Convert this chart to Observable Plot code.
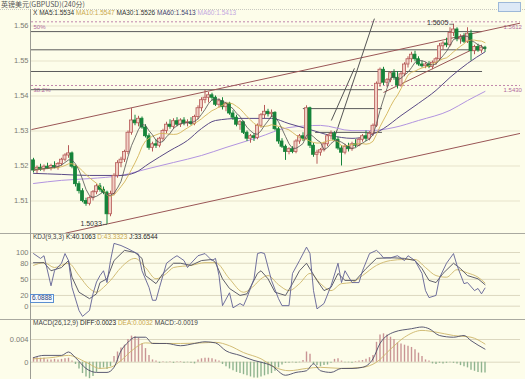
<!DOCTYPE html>
<html><head><meta charset="utf-8">
<script src="https://cdn.jsdelivr.net/npm/d3@7"></script>
<script src="https://cdn.jsdelivr.net/npm/@observablehq/plot@0.6"></script>
<style>
body{margin:0;background:#fdfdea;}
#wrap{position:relative;width:525px;height:379px;background:#fdfdea;overflow:hidden;font-family:"Liberation Sans",sans-serif;}
#wrap svg{position:absolute;left:0;}
.t{position:absolute;white-space:nowrap;line-height:1;}
.hl{position:absolute;height:0;}
</style></head><body><div id="wrap"></div>
<script>
// ---------- data ----------
const title = "英镑美元(GBPUSD)(240分)";
// candles: [open, high, low, close]
const ohlc = [
[1.5216,1.5222,1.5180,1.5187],[1.5187,1.5200,1.5178,1.5195],[1.5195,1.5205,1.5185,1.5190],[1.5190,1.5203,1.5183,1.5198],
[1.5198,1.5208,1.5190,1.5193],[1.5193,1.5205,1.5186,1.5200],[1.5200,1.5212,1.5192,1.5196],[1.5196,1.5210,1.5188,1.5206],
[1.5206,1.5222,1.5200,1.5218],[1.5218,1.5235,1.5212,1.5230],[1.5230,1.5258,1.5222,1.5236],[1.5236,1.5240,1.5192,1.5198],
[1.5198,1.5202,1.5140,1.5148],[1.5148,1.5155,1.5120,1.5128],[1.5128,1.5135,1.5095,1.5100],[1.5100,1.5108,1.5085,1.5092],
[1.5092,1.5112,1.5086,1.5108],[1.5108,1.5130,1.5100,1.5125],[1.5125,1.5148,1.5118,1.5142],[1.5142,1.5150,1.5125,1.5132],
[1.5132,1.5140,1.5118,1.5124],[1.5124,1.5128,1.5033,1.5062],[1.5062,1.5128,1.5055,1.5120],[1.5120,1.5178,1.5115,1.5172],
[1.5172,1.5215,1.5165,1.5208],[1.5208,1.5225,1.5195,1.5218],[1.5218,1.5245,1.5210,1.5240],[1.5240,1.5300,1.5232,1.5295],
[1.5295,1.5364,1.5288,1.5330],[1.5330,1.5345,1.5315,1.5322],[1.5322,1.5342,1.5312,1.5335],[1.5335,1.5340,1.5305,1.5310],
[1.5310,1.5318,1.5280,1.5285],[1.5285,1.5292,1.5245,1.5252],[1.5252,1.5268,1.5240,1.5262],[1.5262,1.5275,1.5250,1.5258],
[1.5258,1.5282,1.5252,1.5278],[1.5278,1.5305,1.5270,1.5300],[1.5300,1.5325,1.5292,1.5318],[1.5318,1.5332,1.5305,1.5312],
[1.5312,1.5335,1.5305,1.5328],[1.5328,1.5338,1.5312,1.5318],[1.5318,1.5335,1.5310,1.5330],[1.5330,1.5338,1.5315,1.5322],
[1.5322,1.5332,1.5312,1.5325],[1.5325,1.5338,1.5315,1.5320],[1.5320,1.5345,1.5315,1.5340],[1.5340,1.5372,1.5332,1.5365],
[1.5365,1.5395,1.5355,1.5388],[1.5388,1.5416,1.5378,1.5395],[1.5395,1.5410,1.5380,1.5402],[1.5402,1.5408,1.5385,1.5395],
[1.5395,1.5400,1.5370,1.5375],[1.5375,1.5392,1.5365,1.5385],[1.5385,1.5395,1.5360,1.5368],[1.5368,1.5382,1.5355,1.5378],
[1.5378,1.5382,1.5345,1.5350],[1.5350,1.5358,1.5330,1.5338],[1.5338,1.5345,1.5312,1.5318],[1.5318,1.5330,1.5302,1.5325],
[1.5325,1.5328,1.5290,1.5295],[1.5295,1.5300,1.5270,1.5278],[1.5278,1.5290,1.5265,1.5285],[1.5285,1.5292,1.5270,1.5280],
[1.5280,1.5320,1.5275,1.5315],[1.5315,1.5350,1.5308,1.5345],[1.5345,1.5373,1.5335,1.5355],[1.5355,1.5362,1.5340,1.5348],
[1.5348,1.5360,1.5338,1.5352],[1.5352,1.5355,1.5300,1.5305],[1.5305,1.5310,1.5262,1.5270],[1.5270,1.5278,1.5250,1.5255],
[1.5255,1.5260,1.5216,1.5240],[1.5240,1.5252,1.5232,1.5248],[1.5248,1.5255,1.5235,1.5240],[1.5240,1.5275,1.5235,1.5270],
[1.5270,1.5290,1.5262,1.5285],[1.5285,1.5295,1.5270,1.5278],[1.5278,1.5372,1.5275,1.5365],[1.5365,1.5368,1.5250,1.5258],
[1.5258,1.5265,1.5225,1.5232],[1.5232,1.5245,1.5205,1.5238],[1.5238,1.5250,1.5228,1.5245],[1.5245,1.5268,1.5240,1.5262],
[1.5262,1.5290,1.5255,1.5285],[1.5285,1.5300,1.5275,1.5292],[1.5292,1.5298,1.5270,1.5275],[1.5275,1.5282,1.5245,1.5250],
[1.5250,1.5258,1.5200,1.5238],[1.5238,1.5262,1.5232,1.5255],[1.5255,1.5265,1.5240,1.5248],[1.5248,1.5268,1.5242,1.5262],
[1.5262,1.5275,1.5252,1.5258],[1.5258,1.5280,1.5255,1.5275],[1.5275,1.5290,1.5268,1.5285],[1.5285,1.5300,1.5270,1.5278],
[1.5278,1.5298,1.5272,1.5292],[1.5292,1.5320,1.5285,1.5315],[1.5315,1.5440,1.5310,1.5435],[1.5435,1.5480,1.5425,1.5475],
[1.5475,1.5482,1.5430,1.5438],[1.5438,1.5450,1.5425,1.5445],[1.5445,1.5470,1.5438,1.5465],[1.5465,1.5475,1.5445,1.5452],
[1.5452,1.5470,1.5420,1.5430],[1.5430,1.5468,1.5425,1.5462],[1.5462,1.5495,1.5455,1.5490],[1.5490,1.5512,1.5480,1.5505],
[1.5505,1.5525,1.5495,1.5518],[1.5518,1.5528,1.5498,1.5505],[1.5505,1.5512,1.5485,1.5490],[1.5490,1.5500,1.5480,1.5485],
[1.5485,1.5495,1.5478,1.5490],[1.5490,1.5498,1.5478,1.5483],[1.5483,1.5500,1.5475,1.5495],[1.5495,1.5510,1.5488,1.5505],
[1.5505,1.5550,1.5500,1.5542],[1.5542,1.5555,1.5530,1.5550],[1.5550,1.5565,1.5538,1.5545],[1.5545,1.5595,1.5540,1.5580],
[1.5580,1.5605,1.5570,1.5590],[1.5590,1.5595,1.5555,1.5562],[1.5562,1.5575,1.5548,1.5568],[1.5568,1.5578,1.5550,1.5555],
[1.5555,1.5595,1.5550,1.5578],[1.5578,1.5588,1.5500,1.5528],[1.5528,1.5545,1.5518,1.5540],[1.5540,1.5548,1.5525,1.5530],
[1.5530,1.5545,1.5522,1.5538],[1.5538,1.5542,1.5525,1.5534]
];
// slow moving averages read at sample bars: [bar, value]
const ma30 = [[0,1.5179],[8,1.5176],[16,1.5173],[25,1.5173],[29,1.5181],[33,1.5207],[39,1.5244],[44,1.5273],[48,1.5307],[52,1.5330],[59,1.5336],[68,1.5336],[73,1.5321],[79,1.5304],[85,1.5287],[91,1.5279],[95,1.5284],[100,1.5307],[105,1.5344],[110,1.5379],[115,1.5416],[119,1.5453],[124,1.5493],[129,1.5526]];
const ma60 = [[0,1.5150],[8,1.5159],[16,1.5164],[25,1.5173],[33,1.5193],[40,1.5210],[48,1.5230],[55,1.5253],[64,1.5281],[73,1.5310],[82,1.5316],[91,1.5301],[96,1.5301],[103,1.5310],[110,1.5330],[119,1.5359],[124,1.5387],[129,1.5413]];
const priceTicks = [1.51,1.52,1.53,1.54,1.55,1.56];
const maNames = ["MA5","MA10","MA30","MA60","MA60"];
const maValues = ["1.5534","1.5547","1.5526","1.5413","1.5413"];
// analyst drawings: [bar1, price1, bar2, price2]
const channelLines = [[-0.6,1.5304,139,1.5608],[9.1,1.5008,139,1.5293],[100,1.5410,127.7,1.5544]];
const steepLines = [[86,1.5281,97.4,1.5621],[85.1,1.5330,91.7,1.5479]];
// horizontal levels: [price, fromBar, toBar]
const levels = [[1.5584,-0.6,128.3],[1.5532,-0.6,128.3],[1.5470,-0.6,128.3],[1.5418,-0.6,99.7],[1.5364,77.1,99.7],[1.5296,80.6,99.7]];
const fibPrices = [1.5612,1.5430];
const fibNames = ["50%","38.2%"];
const fibValues = ["1.5612","1.5430"];
const extremeBars = [120,21];
const extremePrices = [1.5605,1.5033];
// KDJ read at sample bars
const kdjK = [[0,81],[3,81],[5,66],[8,72],[10,85],[11,54],[13,26],[16,14],[18,23],[19,44],[21,51],[23,85],[26,104],[29,100],[31,89],[32,57],[35,42],[37,61],[40,80],[42,80],[45,76],[48,85],[51,87],[52,81],[54,51],[56,33],[59,20],[61,23],[64,61],[65,66],[67,51],[69,26],[72,20],[74,42],[76,66],[78,80],[81,48],[83,29],[85,35],[87,61],[89,48],[92,48],[95,70],[98,89],[101,90],[103,90],[106,89],[109,85],[111,70],[113,48],[115,44],[117,61],[120,80],[122,70],[124,57],[127,51],[129,40.1]];
const kdjD = [[0,76],[3,81],[6,72],[10,80],[13,57],[16,33],[18,26],[20,35],[22,48],[25,72],[29,89],[32,72],[35,51],[38,61],[40,72],[45,76],[49,81],[52,81],[56,51],[60,26],[63,38],[65,51],[67,57],[70,40],[73,29],[76,42],[79,61],[82,42],[85,29],[88,42],[91,44],[94,57],[98,76],[102,85],[106,87],[109,87],[112,72],[115,57],[118,54],[121,68],[124,62],[127,54],[129,43.3]];
const kdjJ = [[0,98],[2,89],[3,94],[5,38],[6,66],[8,80],[9,98],[10,85],[11,35],[13,-8],[14,-19],[16,-8],[17,23],[18,45],[19,57],[20,66],[21,44],[22,85],[23,117],[25,113],[27,107],[29,100],[30,97],[31,66],[33,35],[34,11],[35,11],[36,35],[38,80],[40,90],[41,94],[43,85],[44,72],[45,80],[47,94],[49,98],[51,85],[52,89],[53,57],[54,1],[56,25],[57,-3],[59,5],[60,1],[61,16],[63,51],[64,98],[65,100],[66,98],[68,48],[70,14],[71,1],[73,1],[74,61],[76,85],[78,110],[79,98],[80,29],[81,-5],[83,5],[85,38],[87,80],[88,44],[89,66],[91,44],[93,44],[94,66],[96,98],[98,104],[99,98],[100,90],[102,90],[104,94],[106,85],[107,94],[109,85],[111,61],[112,29],[113,16],[115,20],[116,53],[118,80],[120,98],[121,76],[123,42],[124,44],[126,29],[127,33],[128,23],[129,33.7]];
const kdjTicks = [0,20,50,80,100];
// MACD
const macdDiff = [[0,0.0008],[3,0.0012],[8,0.0012],[10,0.0018],[12,0.0008],[15,-0.0011],[18,-0.0018],[21,-0.0018],[23,-0.0009],[25,0.0020],[27,0.0035],[29,0.0044],[32,0.0044],[34,0.0033],[38,0.0033],[42,0.0029],[46,0.0033],[49,0.0036],[52,0.0034],[55,0.0020],[59,0.0012],[63,0.0003],[65,0.0000],[68,-0.0006],[72,-0.0023],[75,-0.0018],[78,-0.0015],[80,-0.0003],[82,-0.0015],[85,-0.0018],[88,-0.0011],[91,-0.0011],[94,-0.0009],[97,0.0006],[99,0.0033],[103,0.0053],[108,0.0059],[111,0.0062],[113,0.0059],[116,0.0047],[120,0.0044],[123,0.0047],[125,0.0038],[129,0.0023]];
const macdDea = [[0,0.0006],[5,0.0008],[10,0.0012],[15,0.0000],[19,-0.0011],[22,-0.0009],[25,0.0003],[28,0.0020],[32,0.0034],[36,0.0033],[42,0.0033],[48,0.0034],[52,0.0035],[56,0.0029],[60,0.0017],[65,0.0006],[69,-0.0009],[73,-0.0015],[78,-0.0011],[82,-0.0009],[88,-0.0011],[94,-0.0009],[98,0.0000],[102,0.0023],[106,0.0044],[111,0.0056],[115,0.0053],[120,0.0047],[125,0.0044],[129,0.0032]];
const macdHist = [0.0008,0.0008,0.0007,0.0007,0.0004,0.0004,0.0005,0.0004,0.0005,0.0006,0.0007,0.0002,-0.0004,-0.0012,-0.0020,-0.0026,-0.0029,-0.0025,-0.0018,-0.0012,
-0.0010,-0.0013,-0.0008,0.0010,0.0018,0.0025,0.0030,0.0040,0.0046,0.0045,0.0042,0.0032,0.0024,0.0012,0.0004,0.0002,-0.0002,0.0001,-0.0001,0.0001,
-0.0002,0.0001,0.0001,-0.0002,-0.0001,-0.0002,-0.0003,0.0004,0.0006,0.0007,0.0007,0.0006,0.0004,0.0002,-0.0004,-0.0008,-0.0012,-0.0015,-0.0018,-0.0020,
-0.0022,-0.0024,-0.0026,-0.0028,-0.0028,-0.0026,-0.0024,-0.0022,-0.0020,-0.0016,-0.0010,-0.0005,-0.0002,-0.0002,-0.0001,-0.0002,-0.0001,0.0003,0.0018,0.0014,
-0.0004,-0.0006,-0.0008,-0.0006,-0.0005,-0.0002,0.0005,0.0006,0.0002,-0.0001,-0.0001,-0.0002,0.0001,0.0002,0.0003,0.0005,0.0008,0.0012,0.0035,0.0048,
0.0050,0.0048,0.0044,0.0040,0.0034,0.0032,0.0030,0.0028,0.0026,0.0022,0.0016,0.0010,0.0004,0.0002,-0.0003,-0.0004,-0.0002,-0.0003,-0.0002,-0.0001,
-0.0002,-0.0003,-0.0006,-0.0008,-0.0010,-0.0014,-0.0016,-0.0018,-0.0019,-0.0019];
const macdTicks = [0,0.004];

// ---------- drawing ----------
const wrap = document.getElementById("wrap");
const xDomain = [-2/3.5, 487/3.5];
const common = {width:525, marginLeft:31, marginRight:5, marginBottom:0,
  style:{background:"transparent", fontFamily:"Liberation Sans, sans-serif", fontSize:"7.5px", color:"#7c7c74"}};
const bars = ohlc.map(([o,h,l,c],i)=>({i,o,h,l,c,up:c>=o}));
const UPS="#b65a58", UPF="#f1cfc4", DN="#16843a";
const pt = a => ({x:a[0], y:a[1]});

const main = Plot.plot({...common, height:233, marginTop:12,
  x:{domain:xDomain, axis:null},
  y:{domain:[1.500714,1.563857], ticks:priceTicks, tickFormat:d3.format(".2f"), tickSize:0, tickPadding:3, label:null},
  marks:[
    Plot.ruleY(priceTicks,{stroke:"#e7e3cb"}),
    Plot.ruleY(fibPrices,{stroke:"#b1689c", strokeDasharray:"2,2", strokeWidth:0.8}),
    Plot.text(fibPrices,{x:xDomain[0], y:d=>d, text:(d,i)=>fibNames[i], textAnchor:"start", dx:2, dy:5, fill:"#b1689c", fontSize:6}),
    Plot.text(fibPrices,{x:134.3, y:d=>d, text:(d,i)=>fibValues[i], textAnchor:"start", dy:5, fill:"#b1689c", fontSize:6}),
    Plot.ruleY(levels,{y:d=>d[0], x1:d=>d[1], x2:d=>d[2], stroke:"#5c5c5c", strokeWidth:1}),
    Plot.link(channelLines,{x1:d=>d[0], y1:d=>d[1], x2:d=>d[2], y2:d=>d[3], stroke:"#9a5656", strokeWidth:1}),
    Plot.link(steepLines,{x1:d=>d[0], y1:d=>d[1], x2:d=>d[2], y2:d=>d[3], stroke:"#555", strokeWidth:1}),
    Plot.line(ma60.map(pt),{x:"x", y:"y", curve:"monotone-x", stroke:"#b294e0", strokeWidth:1}),
    Plot.line(ma30.map(pt),{x:"x", y:"y", curve:"monotone-x", stroke:"#5a4a86", strokeWidth:1}),
    Plot.ruleX(bars,{x:"i", y1:"l", y2:"h", stroke:d=>d.up?UPS:DN, strokeWidth:1}),
    Plot.rect(bars,{x1:d=>d.i-0.43, x2:d=>d.i+0.43, y1:"o", y2:"c", fill:d=>d.up?UPF:DN, stroke:d=>d.up?UPS:DN, strokeWidth:0.8}),
    Plot.lineY(bars, Plot.windowY({k:10, anchor:"end"}, {x:"i", y:"c", stroke:"#d4b458", strokeWidth:0.9})),
    Plot.lineY(bars, Plot.windowY({k:5, anchor:"end"}, {x:"i", y:"c", stroke:"#505050", strokeWidth:0.8})),
    Plot.link(extremeBars,{x1:d=>d-1.2, x2:d=>d, y1:(d,i)=>extremePrices[i], y2:(d,i)=>extremePrices[i], stroke:"#555", strokeWidth:0.8}),
    Plot.text(extremeBars,{x:d=>d-1.2, y:(d,i)=>extremePrices[i], text:(d,i)=>extremePrices[i].toFixed(4), textAnchor:"end", dx:-1, dy:-1, fill:"#333", fontSize:7})
  ]});
main.style.top = "0px";
wrap.appendChild(main);

const kdjPlot = Plot.plot({...common, height:86, marginTop:0,
  x:{domain:xDomain, axis:null},
  y:{domain:[-24.8,135.4], ticks:kdjTicks, tickSize:0, tickPadding:3, label:null},
  marks:[
    Plot.ruleY(kdjTicks,{stroke:"#dcd8c0"}),
    Plot.line(kdjD.map(pt),{x:"x", y:"y", curve:"monotone-x", stroke:"#cdb66a", strokeWidth:0.9}),
    Plot.line(kdjK.map(pt),{x:"x", y:"y", stroke:"#4e4e5e", strokeWidth:0.9}),
    Plot.line(kdjJ.map(pt),{x:"x", y:"y", stroke:"#606094", strokeWidth:0.9})
  ]});
kdjPlot.style.top = "233px";
wrap.appendChild(kdjPlot);

const macdPlot = Plot.plot({...common, height:60, marginTop:0,
  x:{domain:xDomain, axis:null},
  y:{domain:[-0.003048,0.007524], ticks:macdTicks, tickFormat:d=>d===0?"0":d3.format(".3f")(d), tickSize:0, tickPadding:3, label:null},
  marks:[
    Plot.ruleY(macdTicks,{stroke:"#dcd8c0"}),
    Plot.ruleX(macdHist,{x:(d,i)=>i, y1:0, y2:d=>d, stroke:d=>d>=0?"#c99494":"#8fb48f", strokeWidth:1.4}),
    Plot.line(macdDea.map(pt),{x:"x", y:"y", curve:"monotone-x", stroke:"#cdb66a", strokeWidth:0.9}),
    Plot.line(macdDiff.map(pt),{x:"x", y:"y", curve:"monotone-x", stroke:"#4a4a66", strokeWidth:0.9})
  ]});
macdPlot.style.top = "319px";
wrap.appendChild(macdPlot);

// frame lines and texts
function hline(top, color, style){ const d=document.createElement("div"); d.className="hl";
  d.style.cssText=`left:0;width:525px;top:${top}px;border-top:1px ${style} ${color};`; wrap.appendChild(d); }
hline(9,"#c8c8c0","dotted"); hline(233,"#a9a9a0","solid"); hline(319,"#a9a9a0","solid");
const vl=document.createElement("div"); vl.style.cssText="position:absolute;left:30px;top:9px;width:0;height:370px;border-left:1px solid #9c9c94;"; wrap.appendChild(vl);

function label(left, top, parts, size){ const d=document.createElement("div"); d.className="t";
  d.style.cssText=`left:${left}px;top:${top}px;font-size:${size}px;`;
  parts.forEach(([txt,col])=>{const s=document.createElement("span"); s.textContent=txt; s.style.color=col; d.appendChild(s);});
  wrap.appendChild(d); return d;}
label(1,1,[[title,"#555"]],7).style.fontFamily='"Noto Sans CJK SC",sans-serif';
const maCols=["#333","#c9a84a","#333","#3e3e6e","#c4a8e0"];
label(33,10,[["X ","#333"]].concat(maNames.map((n,i)=>[n+":"+maValues[i]+"  ",maCols[i]])),6.5);
label(33,234,[["KDJ(9,3,3)  ","#444"],["K:40.1063  ","#222"],["D:43.3323  ","#c9a84a"],["J:33.6544","#222"]],6.5);
label(33,320,[["MACD(26,12,9)  ","#444"],["DIFF:0.0023  ","#222"],["DEA:0.0032  ","#c9a84a"],["MACD:-0.0019","#444"]],6.5);
const box=label(30,294,[["6.0888","#2a3f7a"]],6.5); box.style.border="1px solid #5b8fd0"; box.style.background="#f6fbff"; box.style.padding="0 1px";
const ic=document.createElement("div"); ic.style.cssText="position:absolute;left:498px;top:2px;width:21px;height:8px;border:1px solid #9db8d8;background:#dde9f6;"; wrap.appendChild(ic);
</script></body></html>
